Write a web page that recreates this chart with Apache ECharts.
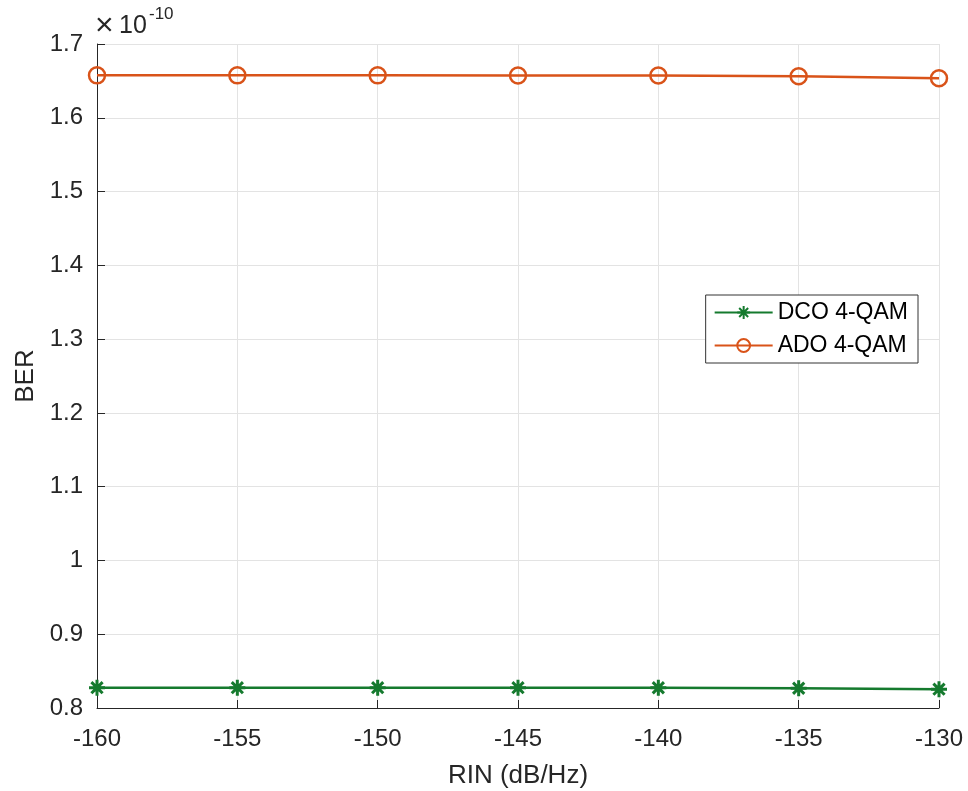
<!DOCTYPE html>
<html><head><meta charset="utf-8">
<script src="https://cdn.jsdelivr.net/npm/echarts@6/dist/echarts.min.js"></script>
<style>html,body{margin:0;padding:0;background:#fff}#c{width:968px;height:791px}</style>
</head><body><div id="c"></div>
<script>
const rin = [-160, -155, -150, -145, -140, -135, -130];
const dco = [0.8275, 0.8275, 0.8275, 0.8275, 0.8274, 0.8268, 0.8255]; // x 1e-10
const ado = [1.6575, 1.6575, 1.6575, 1.6574, 1.6573, 1.6563, 1.6535]; // x 1e-10
const yTicks = [0.8, 0.9, 1, 1.1, 1.2, 1.3, 1.4, 1.5, 1.6, 1.7];

const chart = echarts.init(document.getElementById('c'));
const axisCol = '#262626';
const font = 'Arial, "Liberation Sans", sans-serif';
chart.setOption({
  animation: false,
  grid: {left: 97, right: 29, top: 44, bottom: 83, containLabel: false, outerBoundsMode: 'none'},
  legend: {
    orient: 'vertical', right: 50, top: 295,
    backgroundColor: '#fff', borderColor: '#333', borderWidth: 1,
    padding: [6, 10, 6, 8], itemGap: 10, itemWidth: 58, itemHeight: 16,
    textStyle: {fontFamily: font, fontSize: 23, color: '#000'},
    data: ['DCO 4-QAM', 'ADO 4-QAM']
  },
  xAxis: {
    type: 'value', min: -160, max: -130, interval: 5,
    name: 'RIN (dB/Hz)', nameLocation: 'middle', nameGap: 55,
    nameTextStyle: {fontFamily: font, fontSize: 26, color: axisCol},
    axisLine: {onZero: false, lineStyle: {color: axisCol, width: 1}},
    axisTick: {inside: true, length: 8, lineStyle: {color: axisCol}},
    axisLabel: {fontFamily: font, fontSize: 24, color: axisCol, margin: 19},
    splitLine: {show: true, lineStyle: {color: '#e3e3e3'}}
  },
  yAxis: {
    type: 'value', min: 0.8, max: 1.7, interval: 0.1,
    name: 'BER', nameLocation: 'middle', nameGap: 58,
    nameTextStyle: {fontFamily: font, fontSize: 26, color: axisCol},
    axisLine: {show: true, onZero: false, lineStyle: {color: axisCol, width: 1}},
    axisTick: {show: true, inside: true, length: 8, lineStyle: {color: axisCol}},
    axisLabel: {fontFamily: font, fontSize: 24, color: axisCol, margin: 14,
      formatter: v => { const r = Math.round(v * 10) / 10; return yTicks.includes(r) ? String(r) : ''; }},
    splitLine: {show: true, lineStyle: {color: '#e3e3e3'}}
  },
  graphic: [
    {type: 'text', left: 95, top: 10,
     style: {text: '×', fontSize: 32, fontFamily: font, fill: axisCol}},
    {type: 'text', left: 119, top: 14,
     style: {text: '10', fontSize: 25, fontFamily: font, fill: axisCol}},
    {type: 'text', left: 149, top: 6,
     style: {text: '-10', fontSize: 17, fontFamily: font, fill: axisCol}}
  ],
  series: [
    {name: 'DCO 4-QAM', type: 'line', data: rin.map((x, i) => [x, dco[i]]),
     color: '#157a2e', symbol: 'path://M0,-10L0,10M-10,0L10,0M-7,-7L7,7M-7,7L7,-7', symbolSize: 16,
     lineStyle: {width: 2.5, color: '#157a2e'},
     itemStyle: {color: '#157a2e', borderColor: '#157a2e', borderWidth: 3}},
    {name: 'ADO 4-QAM', type: 'line', data: rin.map((x, i) => [x, ado[i]]),
     color: '#d95319', symbol: 'circle', symbolSize: 16, showAllSymbol: true,
     lineStyle: {width: 2.5, color: '#d95319'},
     itemStyle: {color: 'rgba(255,255,255,0)', borderColor: '#d95319', borderWidth: 2.5}}
  ]
});
</script></body></html>
